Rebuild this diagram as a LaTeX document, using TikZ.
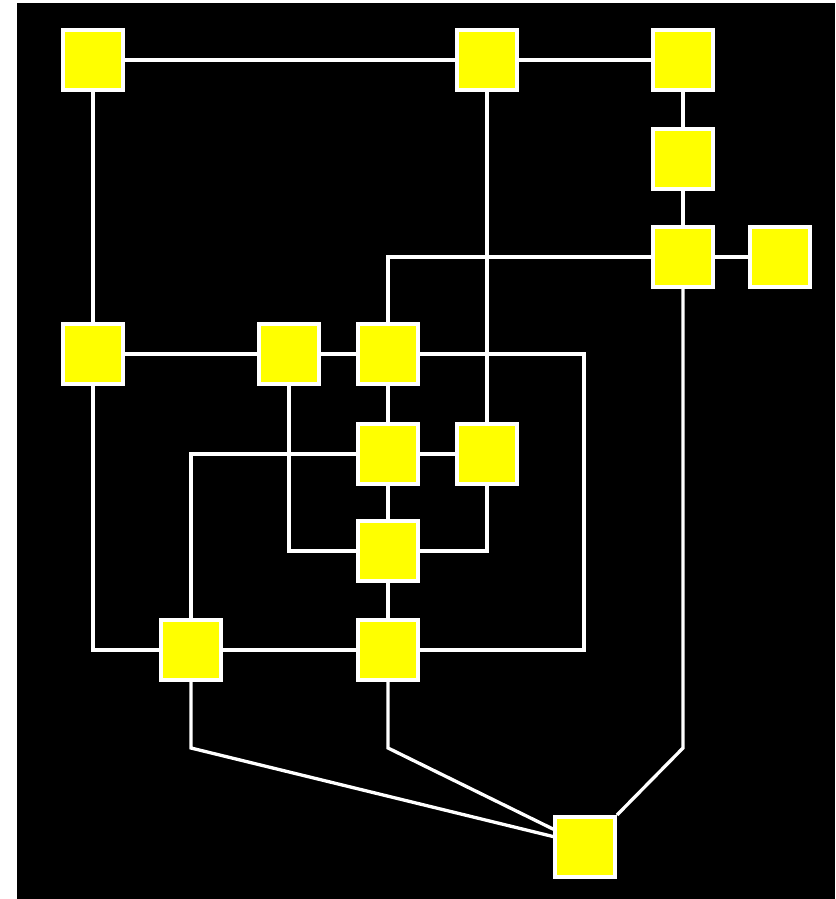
\documentclass[tikz,border=0pt]{standalone}
\pgfdeclarelayer{back}
\pgfdeclarelayer{edges}
\pgfsetlayers{back,edges,main}
\definecolor{boxyellow}{RGB}{255,255,0}
\tikzset{
  box/.style={draw=white, fill=boxyellow, line width=4pt, minimum size=60pt, inner sep=0pt, rectangle},
  wire/.style={draw=white, line width=3.3pt}
}
\begin{document}
\begin{tikzpicture}[x=1pt,y=-1pt]
\useasboundingbox (0,0) rectangle (835,899);
\begin{pgfonlayer}{back}
  \fill[white] (0,0) rectangle (835,899);
  \fill[black] (17,3) rectangle (835,899);
\end{pgfonlayer}
\node[box] (A) at (93,60) {};
\node[box] (B) at (487,60) {};
\node[box] (C) at (683,60) {};
\node[box] (D) at (683,159) {};
\node[box] (E) at (683,257) {};
\node[box] (F) at (780,257) {};
\node[box] (G) at (93,354) {};
\node[box] (H) at (289,354) {};
\node[box] (I) at (388,354) {};
\node[box] (J) at (388,454) {};
\node[box] (K) at (487,454) {};
\node[box] (L) at (388,551) {};
\node[box] (M) at (191,650) {};
\node[box] (N) at (388,650) {};
\node[box] (O) at (585,847) {};
\coordinate (cI) at (584,354);
\coordinate (cN) at (584,650);
\coordinate (eO) at (683,748);
\coordinate (mO) at (191,748);
\coordinate (nO) at (388,748);
\coordinate (pM) at (555,837);
\coordinate (pN) at (555,830);
\begin{pgfonlayer}{edges}
\draw[wire] (A) -- (B);
\draw[wire] (B) -- (C);
\draw[wire] (C) -- (D);
\draw[wire] (D) -- (E);
\draw[wire] (E) -- (F);
\draw[wire] (A) -- (G);
\draw[wire] (B) -- (K);
\draw[wire] (E) -| (I);
\draw[wire] (E) -- (eO) -- (O.north east);
\draw[wire] (G) -- (H);
\draw[wire] (H) -- (I);
\draw[wire] (I) -- (cI) -- (cN) -- (N);
\draw[wire] (I) -- (J);
\draw[wire] (J) -- (K);
\draw[wire] (J) -| (M);
\draw[wire] (J) -- (L);
\draw[wire] (H) |- (L);
\draw[wire] (K) |- (L);
\draw[wire] (L) -- (N);
\draw[wire] (G) |- (M);
\draw[wire] (M) -- (N);
\draw[wire] (M) -- (mO) -- (pM);
\draw[wire] (N) -- (nO) -- (pN);
\end{pgfonlayer}
\end{tikzpicture}
\end{document}
